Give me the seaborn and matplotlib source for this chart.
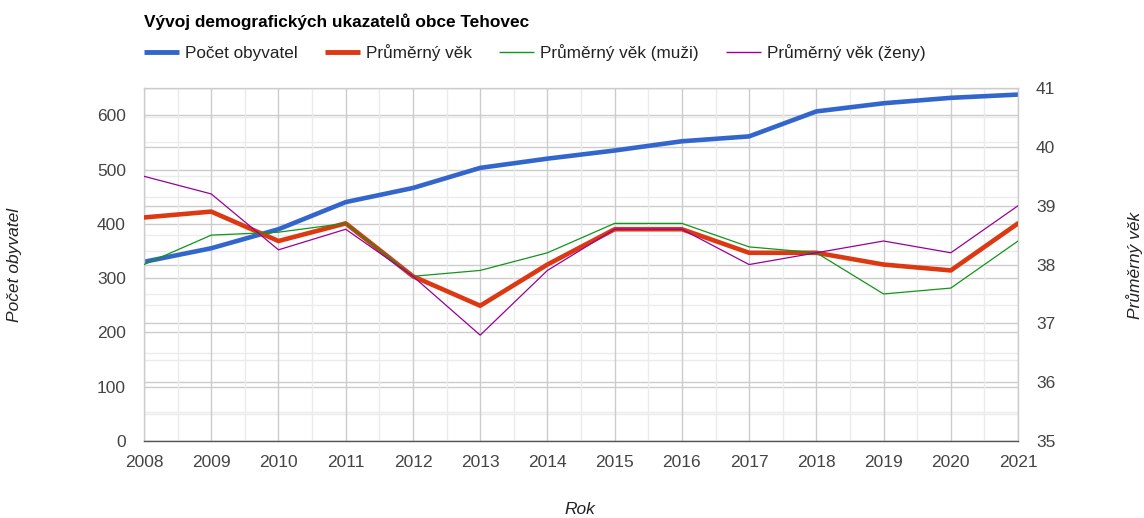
import numpy as np
import matplotlib.pyplot as plt
import seaborn as sns
from matplotlib.lines import Line2D

# hodnoty
years = list(range(2008, 2022))
pocet = [330, 355, 390, 440, 466, 503, 520, 535, 552, 561, 607, 622, 632, 638]
vek = [38.8, 38.9, 38.4, 38.7, 37.8, 37.3, 38.0, 38.6, 38.6, 38.2, 38.2, 38.0, 37.9, 38.7]
vek_muzi = [38.0, 38.5, 38.55, 38.7, 37.8, 37.9, 38.2, 38.7, 38.7, 38.3, 38.2, 37.5, 37.6, 38.4]
vek_zeny = [39.5, 39.2, 38.25, 38.6, 37.8, 36.8, 37.9, 38.6, 38.6, 38.0, 38.2, 38.4, 38.2, 39.0]

left_ticks = list(range(0, 601, 100))
right_ticks = list(range(35, 42))

sns.set_style("white")
plt.rcParams['font.family'] = ['Liberation Sans', 'DejaVu Sans']

fig, ax = plt.subplots(figsize=(11.44, 5.18), dpi=100)
fig.subplots_adjust(left=0.1259, right=0.8899, top=0.830, bottom=0.1486)
ax2 = ax.twinx()

ax.set_xlim(2008, 2021)
ax.set_ylim(0, 650)
ax2.set_ylim(35, 41)

# mrizka - obe osy kresleny do ax, aby byla pod carami
for v in range(0, 651, 50):
    ax.axhline(v, color='#cccccc' if v % 100 == 0 else '#ebebeb', lw=1, zorder=0)
for v in np.arange(35, 41.01, 0.5):
    ax.plot([0, 1], [v, v], transform=ax2.get_yaxis_transform(),
            color='#cccccc' if v % 1 == 0 else '#ebebeb', lw=1, zorder=0)
for yr in years:
    ax.axvline(yr, color='#cccccc', lw=1, zorder=0)
    ax.axvline(yr + 0.5, color='#ebebeb', lw=1, zorder=0)

sns.lineplot(x=years, y=pocet, ax=ax, color='#3366cc', linewidth=3.3)
sns.lineplot(x=years, y=vek, ax=ax2, color='#dc3912', linewidth=3.3)
sns.lineplot(x=years, y=vek_muzi, ax=ax2, color='#109618', linewidth=0.9)
sns.lineplot(x=years, y=vek_zeny, ax=ax2, color='#990099', linewidth=0.9)

ax.set_xticks(years)
ax.set_yticks(left_ticks)
ax2.set_yticks(right_ticks)
ax.set_xlabel('')
ax.set_ylabel('')
ax2.set_ylabel('')
ax.tick_params(axis='x', length=0, pad=10, labelsize=12.5, labelcolor='#444444')
ax.tick_params(axis='y', length=0, pad=13, labelsize=12.5, labelcolor='#444444')
ax2.tick_params(axis='y', length=0, pad=13, labelsize=12.5, labelcolor='#444444')

for s in ax.spines.values():
    s.set_color('#cccccc')
    s.set_linewidth(1)
ax.spines['bottom'].set_color('#555555')
for s in ax2.spines.values():
    s.set_visible(False)

fig.text(144 / 1144, 1 - 22 / 518, 'Vývoj demografických ukazatelů obce Tehovec',
         fontsize=12.4, fontweight='bold', va='center', ha='left', color='#000000')

handles = [Line2D([], [], color='#3366cc', lw=3.5, solid_capstyle='butt'),
           Line2D([], [], color='#dc3912', lw=3.5, solid_capstyle='butt'),
           Line2D([], [], color='#109618', lw=1, solid_capstyle='butt'),
           Line2D([], [], color='#990099', lw=1, solid_capstyle='butt')]
labels = ['Počet obyvatel', 'Průměrný věk', 'Průměrný věk (muži)', 'Průměrný věk (ženy)']
fig.legend(handles, labels, loc='upper left', bbox_to_anchor=(0.120, 0.928), ncol=4,
           frameon=False, fontsize=12.3, handlelength=2.05, handletextpad=0.36,
           columnspacing=1.58, borderaxespad=0, labelcolor='#222222')

fig.text(15 / 1144, 1 - 265 / 518, 'Počet obyvatel', rotation=90, style='italic',
         fontsize=12.5, va='center', ha='center', color='#222222')
fig.text(1135 / 1144, 1 - 265 / 518, 'Průměrný věk', rotation=90, style='italic',
         fontsize=12.5, va='center', ha='center', color='#222222')
fig.text(580 / 1144, 1 - 510 / 518, 'Rok', style='italic',
         fontsize=12.5, va='center', ha='center', color='#222222')

fig.savefig('out.png', dpi=100)
